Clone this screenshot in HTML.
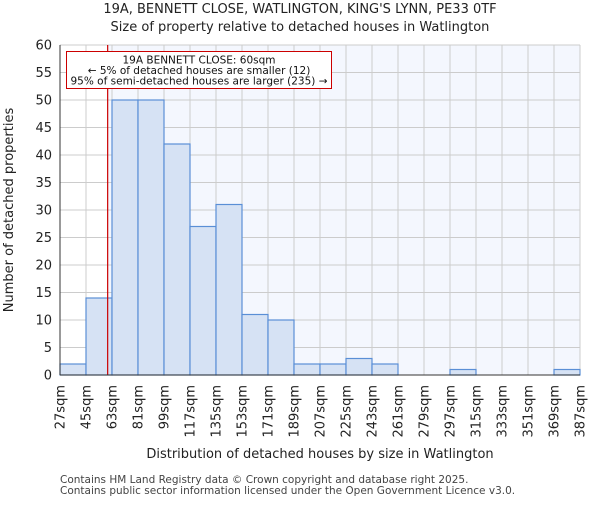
<!DOCTYPE html>
<html><head><meta charset="utf-8"><style>body{margin:0;background:#fff}svg{font-family:"DejaVu Sans","Liberation Sans",sans-serif}</style></head>
<body>
<svg id="c" width="600" height="500" xmlns="http://www.w3.org/2000/svg"></svg>
<script>
const binEdges=[27,45,63,81,99,117,135,153,171,189,207,225,243,261,279,297,315,333,351,369,387];
const counts=[2,14,50,50,42,27,31,11,10,2,2,3,2,0,0,1,0,0,0,1];
const yTicks=[0,5,10,15,20,25,30,35,40,45,50,55,60];
const marker=60;
const NS="http://www.w3.org/2000/svg",svg=document.getElementById('c');
const X0=60,X1=580,Y0=375,Y1=45;
const xs=v=>X0+(v-27)/(387-27)*(X1-X0);
const ys=v=>Y0-v/60*(Y0-Y1);
function mk(t,a,p){const e=document.createElementNS(NS,t);for(const k in a)e.setAttribute(k,a[k]);(p||svg).appendChild(e);return e;}
function txt(s,a){const e=mk('text',a);e.textContent=s;return e;}
let bg=mk('rect',{x:xs(marker),y:Y1,width:X1-xs(marker),height:Y0-Y1,fill:'#f4f7fe'});

yTicks.forEach(t=>{let l=mk('line',{x1:X0,x2:X1,y1:ys(t),y2:ys(t),stroke:'#cccccc'});

let tx=txt(t,{x:X0-8,y:ys(t)+4.5,'text-anchor':'end','font-size':13,fill:'#222'});
});
binEdges.forEach(b=>{let l=mk('line',{x1:xs(b),x2:xs(b),y1:Y1,y2:Y0,stroke:'#cccccc'});

let x=xs(b),tx=txt(b+'sqm',{x:x+4.5,y:Y0+10,'text-anchor':'end','font-size':13,fill:'#222',transform:`rotate(-90 ${x+4.5} ${Y0+10})`});
});
counts.forEach((c,i)=>{if(c<=0)return;let r=mk('rect',{x:xs(binEdges[i]),y:ys(c),width:xs(binEdges[i+1])-xs(binEdges[i]),height:Y0-ys(c),fill:'#d6e2f4',stroke:'#5a8fd6','stroke-width':1.2});
});
let ml=mk('line',{x1:xs(marker),x2:xs(marker),y1:Y1,y2:Y0,stroke:'#cc0000','stroke-width':1.2});

let ax=mk('line',{x1:X0,x2:X1,y1:Y0,y2:Y0,stroke:'#333'});
let ay=mk('line',{x1:X0,x2:X0,y1:Y1,y2:Y0,stroke:'#333'});
let box=mk('rect',{x:66.5,y:51.5,width:265,height:37,fill:'#fff',stroke:'#cc0000','stroke-width':1});

[['19A BENNETT CLOSE: 60sqm',63.5],['← 5% of detached houses are smaller (12)',74],['95% of semi-detached houses are larger (235) →',84.5]].forEach(([s,y])=>{
let t=txt(s,{x:199,y:y,'text-anchor':'middle','font-size':10.5,fill:'#111'});});
let t1=txt('19A, BENNETT CLOSE, WATLINGTON, KING\'S LYNN, PE33 0TF',{x:300,y:13,'text-anchor':'middle','font-size':13,fill:'#222'});
let t2=txt('Size of property relative to detached houses in Watlington',{x:300,y:31,'text-anchor':'middle','font-size':13,fill:'#222'});
let xt=txt('Distribution of detached houses by size in Watlington',{x:320,y:458,'text-anchor':'middle','font-size':13,fill:'#222'});
let yt=txt('Number of detached properties',{x:13,y:210,'text-anchor':'middle','font-size':13,fill:'#222',transform:'rotate(-90 13 210)'});
let f1=txt('Contains HM Land Registry data © Crown copyright and database right 2025.',{x:60,y:483,'font-size':10.5,fill:'#444'});
let f2=txt('Contains public sector information licensed under the Open Government Licence v3.0.',{x:60,y:494,'font-size':10.5,fill:'#444'});
</script>
</body></html>
